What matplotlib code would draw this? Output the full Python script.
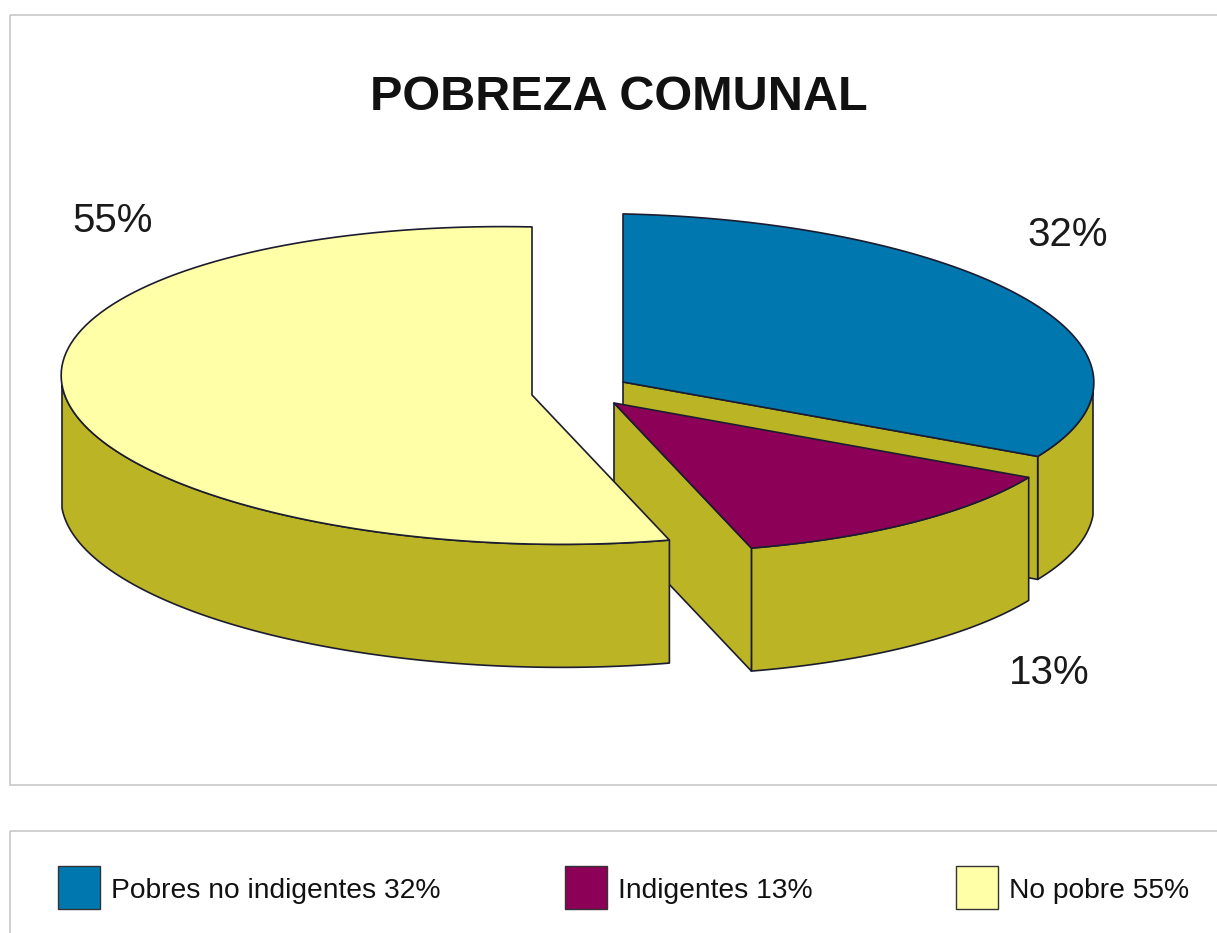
import numpy as np
import matplotlib
matplotlib.use('Agg')
import matplotlib.pyplot as plt
from matplotlib.patches import Polygon, Rectangle

# data
categories = ['Pobres no indigentes', 'Indigentes', 'No pobre']
values = [32, 13, 55]
pct_labels = ['32%', '13%', '55%']
legend_labels = ['Pobres no indigentes 32%', 'Indigentes 13%', 'No pobre 55%']
top_colors = ['#0077ae', '#8c0057', '#ffffa8']
side_color = '#bbb525'
edge_color = '#1c1c30'
title = 'POBREZA COMUNAL'

# layout (pixels)
centers = [(623, 382), (614, 403), (532, 395)]   # exploded apex of each slice
label_pos = [(1068, 246), (1049, 684), (113, 232)]
legend_x = [58, 565, 956]
R, K, P, T, H = 470, 158, -0.06, 10, 123

fig = plt.figure(figsize=(12.17, 9.33), dpi=100)
ax = fig.add_axes([0, 0, 1, 1])
ax.set_xlim(0, 1217)
ax.set_ylim(933, 0)
ax.axis('off')


def proj(cx, cy, th):
	t = np.radians(th)
	den = 1 + P*np.cos(t)
	return cx + R*np.sin(t)/den, cy + (T*np.sin(t) - K*np.cos(t))/den


def arc(cx, cy, a0, a1, n=120):
	th = np.linspace(a0, a1, n)
	x, y = proj(cx, cy, th)
	return np.column_stack([x, y])


def poly(pts, fc):
	ax.add_patch(Polygon(pts, closed=True, fc=fc, ec=edge_color, lw=1.2, joinstyle='round'))


bounds = np.concatenate([[0], np.cumsum(values)]) * 360.0 / sum(values)

# drawing order: blue, magenta, yellow
for i in [0, 1, 2]:
	a0, a1 = bounds[i], bounds[i+1]
	cx, cy = centers[i]
	# outer wall, front half only
	s0, s1 = max(a0, 90), min(a1, 270)
	if s1 > s0:
		top = arc(cx, cy, s0, s1)
		bot = top[::-1] + [0, H]
		poly(np.vstack([top, bot]), side_color)
	# radial face at end angle
	if 0 < a1 < 180:
		ex, ey = proj(cx, cy, a1)
		poly([(cx, cy), (ex, ey), (ex, ey + H), (cx, cy + H)], side_color)
	# radial face at start angle
	if 180 < a0 < 360:
		sx, sy = proj(cx, cy, a0)
		poly([(cx, cy), (sx, sy), (sx, sy + H), (cx, cy + H)], side_color)
	# top
	poly(np.vstack([[cx, cy], arc(cx, cy, a0, a1), [cx, cy]]), top_colors[i])

for i, (lx, ly) in enumerate(label_pos):
	ax.text(lx, ly, pct_labels[i], ha='center', va='baseline', fontsize=29,
		family='Liberation Sans', color='#1a1a1a')

ax.text(619, 110, title, ha='center', va='baseline', fontsize=35,
	fontweight='bold', family='Liberation Sans', color='#111111')

# frames
ax.add_patch(Rectangle((10, 15), 1240, 770, fill=False, ec='#c8c8c8', lw=1.2))
ax.add_patch(Rectangle((10, 831), 1240, 140, fill=False, ec='#c8c8c8', lw=1.2))

# legend
for i, lx in enumerate(legend_x):
	ax.add_patch(Rectangle((lx, 866), 42, 43, fc=top_colors[i], ec='#333333', lw=1))
	ax.text(lx + 53, 898, legend_labels[i], ha='left', va='baseline', fontsize=20.3,
		family='Liberation Sans', color='#111111')

fig.savefig('out.png', dpi=100)
